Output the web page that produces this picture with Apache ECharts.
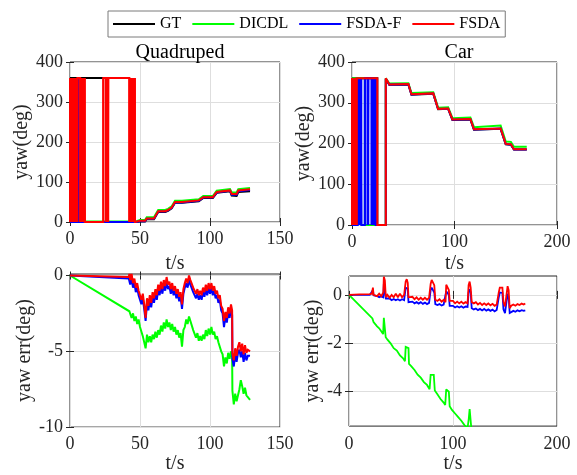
<!DOCTYPE html>
<html><head><meta charset="utf-8">
<script src="https://cdn.jsdelivr.net/npm/echarts@6/dist/echarts.min.js"></script>
<style>html,body{margin:0;padding:0;background:#fff}#c{width:577px;height:475px}</style>
</head><body><div id="c"></div>
<script>
// ---------------- DATA ----------------
const seriesNames = ['GT', 'DICDL', 'FSDA-F', 'FSDA'];
const seriesColors = ['#000000', '#00ff00', '#0000ff', '#ff0000'];
const panelTitles = ['Quadruped', 'Car'];
const WRAP_LO = 0, WRAP_HI = 360;

// Quadruped yaw (deg): wrap instants (yaw flipping across 0/360) then the stepped part
const quadFsdaWrapsA = [0, 0.7, 1.4, 2.1, 2.8, 3.5, 4.2, 4.8, 5.3, 7.3, 7.9, 8.5, 9.2, 9.9, 10.3, 10.6];
const quadFsdaWrapsB = [23.8, 25.9, 26.5, 27.0, 27.3];
const quadFsdaWrapsC = [42.4, 43.1, 43.8, 44.5, 45.2, 45.9, 46.4];
const quadFsdaSteps = [[47.5,1],[50,3],[53.6,3],[54.8,9],[60,9],[61,15],[63,27],[68,27],[70,30],[72.6,36],[75,50],[80,50],[81,54],[92,54],[93,57],[95.2,62],[102,62],[104.8,75],[106,79],[114.3,79],[115.5,70],[119,70],[120.2,79],[121.5,82],[128.6,82]];
const quadFsdaFWraps = [6.2, 6.4];
const quadFsdaFSteps = [[45,0],[47.5,0],[50,2],[53.6,2],[54.8,8],[60,8],[61,14],[63,26],[68,26],[70,29],[72.6,35],[75,49],[80,49],[81,53],[92,53],[93,56],[95.2,61],[102,61],[104.8,74],[106,78],[114.3,78],[115.5,68],[119,68],[120.2,77],[121.5,80],[128.6,80]];
const quadDicdl = [[0,1.5],[45,1.5],[47.5,2],[50,5],[53.6,5],[54.8,12],[60,12],[61,18],[63,30],[68,30],[70,33],[72.6,39],[75,53],[80,53],[81,57],[92,57],[93,60],[95.2,65],[102,65],[104.8,78],[106,82],[114.3,82],[115.5,74],[119,74],[120.2,82],[121.5,85],[128.6,85]];
const quadGt = [[0,360],[25.9,360],[25.9,0],[46,0],[47.5,0],[50,1],[53.6,1],[54.8,7],[60,7],[61,13],[63,25],[68,25],[70,28],[72.6,34],[75,48],[80,48],[81,52],[92,52],[93,55],[95.2,60],[102,60],[104.8,73],[106,77],[114.3,77],[115.5,66],[119,65],[120.2,75],[121.5,77],[128.6,77]];

// Car yaw (deg)
const carFsdaWraps = [0, 0.9, 1.8, 2.7, 3.6, 4.5];
const carFsdaFWraps = [5.6, 6.3, 7.0, 7.7, 8.4, 9.1, 12.55, 15.3, 15.9, 19.2, 19.9, 20.6, 21.3, 22.0, 22.7, 23.1];
const carFsdaEarly = [[4.5,360],[24.7,360],[24.7,0],[33,0]];
const carFsdaSteps = [[33,360],[34.3,360],[36.4,345],[55,346],[58,321],[79.3,323],[84,285],[93.8,286],[98,259],[115.5,260],[119,235],[145,237],[150,199],[155,198],[158,186],[170.5,186]];
const carFsdaFSteps = [[24.7,0],[33,0],[33,359],[34.3,359],[36.4,344.5],[55,345.5],[58,320.5],[79.3,322.5],[84,284.5],[93.8,285.5],[98,258.5],[115.5,259.5],[119,234.5],[145,236.5],[150,198.5],[155,197.5],[158,185.5],[170.5,185.5]];
const carDicdl = [[0,360],[12.55,360],[12.55,0],[33,0],[33,360],[34.3,360],[36.4,347],[55,348],[58,324],[79.3,326],[84,288],[93.8,289],[98,262],[115.5,264],[119,240],[145,244],[150,205],[155,204],[158,192],[170.5,192]];
const carGt = [[0,360],[24.7,360],[24.7,0],[33,0],[33,359],[34.3,359],[36.4,344],[55,345],[58,320],[79.3,322],[84,284],[93.8,285],[98,258],[115.5,259],[119,234],[145,236],[150,198],[155,197],[158,185],[170.5,185]];

// Quadruped yaw error (deg)
const quadErrDicdl = [[0,0],[42.4,-2.36],[43,-2.3],[44,-2.8],[45,-2.5],[46,-3.0],[47,-2.7],[48,-3.2],[49,-2.9],[50,-3.4],[51,-3.3],[52,-4.0],[53,-3.9],[54,-4.8],[55,-3.9],[56,-4.4],[57,-4.0],[58,-4.4],[59,-3.9],[60,-4.2],[61,-3.7],[62,-4.1],[63,-3.6],[64,-3.9],[65,-3.3],[66,-3.7],[67,-3.1],[68,-3.5],[69,-2.9],[70,-3.4],[71,-3.1],[72,-3.6],[73,-3.2],[74,-3.7],[75,-3.4],[76,-3.9],[77,-3.6],[78,-4.1],[79,-3.8],[80,-4.7],[81,-3.6],[82,-3.4],[83,-2.9],[84,-3.2],[85,-2.7],[86,-3.0],[87,-2.9],[88,-3.6],[89,-3.5],[90,-4.1],[91,-3.8],[92,-4.3],[93,-4.0],[94,-4.3],[95,-3.9],[96,-4.2],[97,-3.6],[98,-4.0],[99,-3.5],[100,-3.9],[101,-3.4],[102,-3.9],[103,-3.7],[104,-4.2],[105,-4.0],[106,-4.4],[107,-4.3],[108,-5.0],[109,-5.2],[110,-6.0],[111,-5.4],[112,-5.8],[113,-5.1],[114,-5.5],[115,-5.0],[115.8,-5.3],[116,-7.6],[117,-8.5],[118,-7.8],[119,-8.3],[120,-7.9],[121,-7.5],[122,-6.9],[123,-7.3],[124,-7.8],[125,-7.4],[126,-7.9],[127,-7.8],[128.6,-8.2]];
const quadErrFsdaF = [[0,0],[42,-0.2],[42.4,-0.1],[43,-0.6],[44,-0.2],[45,-0.8],[46,-0.5],[47,-1.1],[48,-0.8],[49,-1.3],[50,-1.2],[51,-1.9],[52,-1.5],[53,-2.2],[54,-3.0],[55,-1.8],[56,-2.3],[57,-1.6],[58,-2.1],[59,-1.4],[60,-1.8],[61,-1.2],[62,-1.6],[63,-0.9],[64,-1.3],[65,-0.7],[66,-1.2],[67,-0.6],[68,-1.0],[69,-0.4],[70,-0.9],[71,-0.7],[72,-1.2],[73,-0.8],[74,-1.3],[75,-1.0],[76,-1.5],[77,-1.2],[78,-1.7],[79,-1.4],[80,-2.2],[81,-1.2],[82,-0.8],[83,-0.5],[84,-0.8],[85,-0.3],[86,-0.6],[87,-0.5],[88,-1.1],[89,-1.0],[90,-1.5],[91,-1.2],[92,-1.6],[93,-1.3],[94,-1.6],[95,-1.1],[96,-1.4],[97,-0.9],[98,-1.3],[99,-0.8],[100,-1.2],[101,-0.8],[102,-1.3],[103,-1.0],[104,-1.5],[105,-1.3],[106,-1.8],[107,-1.6],[108,-2.3],[109,-2.5],[110,-3.4],[111,-2.7],[112,-3.1],[113,-2.4],[114,-2.8],[115,-2.2],[115.8,-2.6],[116,-5.5],[117,-6.0],[118,-5.2],[119,-5.7],[120,-5.1],[121,-4.9],[122,-5.4],[123,-5.0],[124,-5.7],[125,-5.1],[126,-5.6],[127,-5.3],[128.6,-5.3]];
const quadErrFsda = [[0,0],[42,-0.1],[42.4,0.1],[43,-0.3],[44,0.1],[45,-0.5],[46,-0.2],[47,-0.8],[48,-0.5],[49,-1.0],[50,-0.9],[51,-1.6],[52,-1.2],[53,-1.9],[54,-2.8],[55,-1.5],[56,-2.0],[57,-1.3],[58,-1.8],[59,-1.1],[60,-1.5],[61,-0.9],[62,-1.3],[63,-0.6],[64,-1.0],[65,-0.4],[66,-0.9],[67,-0.3],[68,-0.7],[69,-0.1],[70,-0.6],[71,-0.4],[72,-0.9],[73,-0.5],[74,-1.0],[75,-0.7],[76,-1.2],[77,-0.9],[78,-1.4],[79,-1.1],[80,-1.9],[81,-0.9],[82,-0.5],[83,-0.2],[84,-0.5],[85,0.0],[86,-0.3],[87,-0.2],[88,-0.8],[89,-0.7],[90,-1.2],[91,-0.9],[92,-1.3],[93,-1.0],[94,-1.3],[95,-0.8],[96,-1.1],[97,-0.6],[98,-1.0],[99,-0.5],[100,-0.9],[101,-0.5],[102,-1.0],[103,-0.7],[104,-1.2],[105,-1.0],[106,-1.5],[107,-1.3],[108,-2.0],[109,-2.2],[110,-3.0],[111,-2.4],[112,-2.8],[113,-2.1],[114,-2.5],[115,-1.9],[115.8,-2.3],[116,-5.1],[117,-5.6],[118,-4.8],[119,-5.3],[120,-4.7],[121,-4.4],[122,-5.0],[123,-4.5],[124,-5.2],[125,-4.6],[126,-5.1],[127,-4.9],[128.6,-5.0]];

// Car yaw error (deg)
const carErrDicdl = [[0,0],[22.5,-0.97],[23.2,-0.9],[23.6,-1.12],[25,-1.15],[27,-1.3],[29,-1.38],[31,-1.5],[32.8,-1.62],[33.5,-0.95],[34.5,-1.0],[35.3,-1.75],[37,-1.85],[40,-2.0],[43,-2.2],[46,-2.3],[49,-2.5],[52,-2.62],[53.8,-2.74],[54.5,-2.15],[56,-2.1],[57.2,-2.2],[57.7,-2.85],[60,-2.95],[63,-3.1],[66,-3.3],[69,-3.42],[72,-3.6],[75,-3.72],[77.5,-3.9],[78.5,-3.3],[80,-3.25],[81.5,-3.3],[82.5,-3.95],[85,-4.1],[88,-4.3],[91,-4.45],[92.5,-4.55],[93.5,-3.9],[95,-3.92],[96,-4.0],[96.8,-4.6],[99,-4.75],[102,-4.9],[105,-5.05],[108,-5.2],[111,-5.38],[114,-5.5],[115.2,-5.1],[116,-4.72],[117,-4.8],[117.8,-5.6],[119,-5.8]];
const carErrFsdaF = [[0,0],[20,0.0],[23,0.2],[23.6,-0.02],[25,-0.08],[27,-0.05],[29,-0.1],[31,-0.06],[33,-0.1],[33.5,0.45],[34.5,0.4],[35.5,-0.15],[37,-0.2],[39,-0.15],[41,-0.22],[43,-0.17],[45,-0.22],[47,-0.18],[49,-0.23],[51,-0.18],[53,-0.22],[54.5,0.3],[55.5,0.36],[56.5,0.25],[57.2,-0.3],[59,-0.33],[61,-0.28],[63,-0.35],[65,-0.3],[67,-0.36],[69,-0.3],[71,-0.37],[73,-0.32],[75,-0.38],[77,-0.33],[78.5,0.2],[79.5,0.3],[81,0.25],[82,0.1],[83,-0.38],[85,-0.42],[87,-0.38],[89,-0.44],[91,-0.4],[92.8,-0.45],[93.5,0.15],[95,0.17],[96,0.0],[96.8,-0.45],[98,-0.5],[100,-0.45],[102,-0.52],[104,-0.47],[106,-0.52],[108,-0.47],[110,-0.53],[112,-0.48],[114,-0.5],[115,0.1],[116,0.23],[117,0.1],[118,-0.55],[120,-0.6],[122,-0.56],[124,-0.63],[126,-0.58],[128,-0.64],[130,-0.58],[132,-0.65],[134,-0.6],[136,-0.66],[138,-0.61],[140,-0.68],[142,-0.62],[144,-0.1],[145,0.1],[146.5,0.05],[147.5,0.08],[148.5,-0.6],[150,-0.75],[151.5,-0.7],[152.5,0.05],[153.5,-0.1],[154.5,-0.75],[156,-0.7],[158,-0.66],[160,-0.7],[162,-0.64],[164,-0.68],[166,-0.63],[168,-0.66],[169.5,-0.64]];
const carErrFsda = [[0,0],[10,0.02],[20,0.03],[22,0.05],[23,0.3],[23.6,0.0],[25,0.05],[27,-0.05],[29,0.05],[31,-0.05],[33,0.1],[33.5,0.75],[34.5,0.6],[35,0.2],[35.5,-0.1],[37,0],[39,-0.12],[41,0],[43,-0.1],[45,0.05],[47,-0.1],[49,0.05],[51,-0.1],[53,0],[54.5,0.55],[55.5,0.65],[56.5,0.5],[57.2,-0.1],[59,-0.15],[61,-0.08],[63,-0.18],[65,-0.1],[67,-0.2],[69,-0.12],[71,-0.2],[73,-0.12],[75,-0.2],[77,-0.12],[78.5,0.45],[79.5,0.62],[81,0.55],[82,0.4],[83,-0.2],[85,-0.25],[87,-0.18],[89,-0.28],[91,-0.2],[92.8,-0.3],[93.5,0.42],[95,0.4],[96,0.2],[96.8,-0.25],[98,-0.3],[100,-0.25],[102,-0.35],[104,-0.28],[106,-0.35],[108,-0.28],[110,-0.36],[112,-0.3],[114,-0.35],[115,0.4],[116,0.55],[117,0.3],[118,-0.3],[120,-0.35],[122,-0.3],[124,-0.4],[126,-0.33],[128,-0.42],[130,-0.35],[132,-0.42],[134,-0.35],[136,-0.43],[138,-0.37],[140,-0.45],[142,-0.4],[144,0.1],[145,0.3],[146.5,0.25],[147.5,0.3],[148.5,-0.3],[150,-0.48],[151.5,-0.45],[152.5,0.36],[153.5,0.2],[154.5,-0.55],[156,-0.45],[158,-0.4],[160,-0.45],[162,-0.38],[164,-0.42],[166,-0.36],[168,-0.4],[169.5,-0.36]];

// Tick values
const quadXTicks = {max:150, interval:50};
const carXTicks = {max:200, interval:100};
const yawYTicks = {min:0, max:400, interval:100};
const quadErrY = {min:-10, max:0.1, ticks:[-10,-5,0]};
const carErrY = {min:-5.42, max:0.78, ticks:[-4,-2,0]};

// -------------- build helpers --------------
// polyline through the wrap instants (keeps the horizontal stretches between wraps)
function wrapPath(times, startLevel) {
  const pts = []; let lvl = startLevel;
  for (const t of times) {
    pts.push([t, lvl]);
    lvl = (lvl === WRAP_LO) ? WRAP_HI : WRAP_LO;
    pts.push([t, lvl]);
  }
  return pts;
}
// the vertical jumps of the same wrap instants as separate segments (so that the
// renderer does not merge jumps that are less than a pixel or two apart)
function wrapJumps(times) {
  const pts = [];
  for (const t of times) { pts.push([t, WRAP_LO]); pts.push([t, WRAP_HI]); pts.push([t, '-']); }
  return pts;
}
const quadFsda = [...wrapPath(quadFsdaWrapsA, WRAP_LO), ...wrapPath(quadFsdaWrapsB, WRAP_LO), ...wrapPath(quadFsdaWrapsC, WRAP_HI), ...quadFsdaSteps];
const quadFsdaJumps = wrapJumps([...quadFsdaWrapsA, ...quadFsdaWrapsB, ...quadFsdaWrapsC]);
const quadFsdaF = [[0,0], ...wrapPath(quadFsdaFWraps, WRAP_LO), ...quadFsdaFSteps];
const carFsda = [...wrapPath(carFsdaWraps, WRAP_LO), ...carFsdaEarly, ...carFsdaSteps];
const carFsdaJumps = wrapJumps(carFsdaWraps);
const carFsdaF = [[0,0], ...wrapPath(carFsdaFWraps, WRAP_LO), ...carFsdaFSteps];
const carFsdaFJumps = wrapJumps(carFsdaFWraps);

const FONT = 'Liberation Serif';
const AX = '#262626';
const GRIDC = '#dedede';

const grids = [
  {left:70, top:62, width:210, height:160},
  {left:352, top:62, width:205, height:163},
  {left:70, top:274, width:210, height:160},
  {left:349, top:276, width:208, height:160}
].map(g => Object.assign(g, {show:true, borderColor:AX, borderWidth:1, backgroundColor:'#fff'}));

const tickStyle = {show:true, inside:true, length:4, lineStyle:{color:AX, width:1}};
function xMain(gi, tk, nameGap, margin) {
  return {type:'value', gridIndex:gi, position:'bottom', min:0, max:tk.max, interval:tk.interval,
    name:'t/s', nameLocation:'middle', nameGap, nameTextStyle:{fontFamily:FONT, fontSize:20, color:AX},
    axisLine:{show:false}, axisTick:tickStyle,
    axisLabel:{fontFamily:FONT, fontSize:18, color:AX, margin},
    splitLine:{show:true, lineStyle:{color:GRIDC, width:1}}};
}
function xMirror(gi, tk) {
  return {type:'value', gridIndex:gi, position:'top', min:0, max:tk.max, interval:tk.interval,
    axisLine:{show:false}, axisTick:tickStyle, axisLabel:{show:false}, splitLine:{show:false}};
}
function yMain(gi, tk, name, nameGap) {
  const a = {type:'value', gridIndex:gi, position:'left', min:tk.min, max:tk.max,
    name, nameLocation:'middle', nameGap, nameRotate:90, nameTextStyle:{fontFamily:FONT, fontSize:20, color:AX},
    axisLine:{show:false}, axisTick:Object.assign({}, tickStyle),
    axisLabel:{fontFamily:FONT, fontSize:18, color:AX, margin:7},
    splitLine:{show:true, lineStyle:{color:GRIDC, width:1}}};
  if (tk.ticks) { a.axisTick.customValues = tk.ticks; a.axisLabel.customValues = tk.ticks; }
  else a.interval = tk.interval;
  return a;
}
function yMirror(gi, tk) {
  const a = {type:'value', gridIndex:gi, position:'right', min:tk.min, max:tk.max,
    axisLine:{show:false}, axisTick:Object.assign({}, tickStyle), axisLabel:{show:false}, splitLine:{show:false}};
  if (tk.ticks) { a.axisTick.customValues = tk.ticks; a.axisLabel.customValues = tk.ticks; }
  else a.interval = tk.interval;
  return a;
}

const xAxes = [xMain(0, quadXTicks, 32, 8), xMain(1, carXTicks, 29, 8), xMain(2, quadXTicks, 22, 8), xMain(3, carXTicks, 24, 9),
               xMirror(0, quadXTicks), xMirror(1, carXTicks), xMirror(2, quadXTicks), xMirror(3, carXTicks)];
const yAxes = [yMain(0, yawYTicks, 'yaw(deg)', 37), yMain(1, yawYTicks, 'yaw(deg)', 34), yMain(2, quadErrY, 'yaw err(deg)', 32), yMain(3, carErrY, 'yaw err(deg)', 22),
               yMirror(0, yawYTicks), yMirror(1, yawYTicks), yMirror(2, quadErrY), yMirror(3, carErrY)];

function mk(gi, idx, data, width, cap) {
  return {type:'line', name:seriesNames[idx], xAxisIndex:gi, yAxisIndex:gi, data,
    showSymbol:false, symbol:'none', clip:true, animation:false, connectNulls:false,
    lineStyle:{color:seriesColors[idx], width, join:'miter', miterLimit:2, cap:cap || 'butt'},
    itemStyle:{color:seriesColors[idx]}};
}
const series = [
  mk(0,0,quadGt,2), mk(0,1,quadDicdl,2), mk(0,2,quadFsdaF,2), mk(0,3,quadFsda,2), mk(0,3,quadFsdaJumps,2),
  mk(1,0,carGt,2), mk(1,1,carDicdl,2), mk(1,2,carFsdaF,2), mk(1,2,carFsdaFJumps,2), mk(1,3,carFsda,2), mk(1,3,carFsdaJumps,2),
  mk(2,1,quadErrDicdl,2), mk(2,2,quadErrFsdaF,2), mk(2,3,quadErrFsda,2),
  mk(3,1,carErrDicdl,1.8), mk(3,2,carErrFsdaF,1.8), mk(3,3,carErrFsda,1.8)
];

const chart = echarts.init(document.getElementById('c'), null, {renderer:'canvas'});
chart.setOption({
  animation:false,
  backgroundColor:'#fff',
  textStyle:{fontFamily:FONT},
  title:[
    {text:panelTitles[0], left:175, top:38, textAlign:'center', textStyle:{fontFamily:FONT, fontSize:20, fontWeight:'normal', color:'#000'}},
    {text:panelTitles[1], left:454, top:38, textAlign:'center', textStyle:{fontFamily:FONT, fontSize:20, fontWeight:'normal', color:'#000'}}
  ],
  legend:{data:seriesNames, left:108, top:11, icon:'rect', itemWidth:42, itemHeight:2, itemGap:11,
    padding:[4,5], borderColor:'#7a7a7a', borderWidth:1, backgroundColor:'#fff',
    textStyle:{fontFamily:FONT, fontSize:16, color:'#000', lineHeight:18}},
  grid:grids,
  xAxis:xAxes,
  yAxis:yAxes,
  series
});
</script></body></html>
